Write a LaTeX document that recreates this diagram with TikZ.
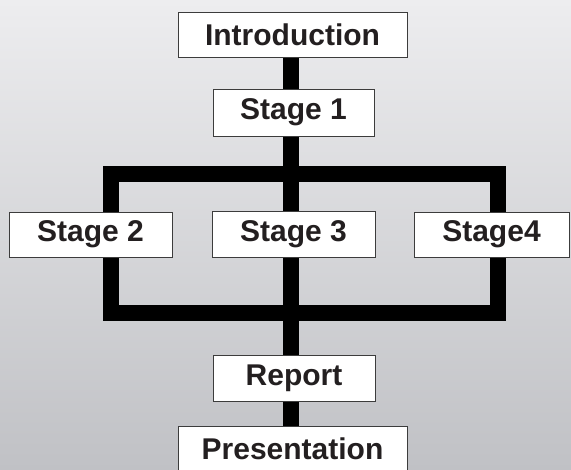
\documentclass[tikz,border=0pt]{standalone}
\usepackage{fontspec}
\setmainfont{Liberation Sans}
\usetikzlibrary{backgrounds}
\definecolor{bgtop}{RGB}{237,237,239}
\definecolor{bgbot}{RGB}{192,193,197}
\definecolor{boxline}{RGB}{60,60,60}
\definecolor{txt}{RGB}{35,31,32}
\tikzset{
  stagebox/.style={draw=boxline, line width=0.9pt, fill=white, inner sep=0pt,
    text=txt, font=\bfseries\fontsize{30}{36}\selectfont, anchor=center},
  bar/.style={line width=16pt, draw=black, line join=miter, line cap=butt}
}
\begin{document}
\begin{tikzpicture}[x=1pt, y=-1pt]
\useasboundingbox (0,0) rectangle (571,470);
\node[stagebox, minimum width=229pt, minimum height=45pt] (intro) at (292.5,34.5) {Introduction};
\node[stagebox, minimum width=161pt, minimum height=47pt] (s1) at (293.5,112.5) {Stage 1};
\node[stagebox, minimum width=163pt, minimum height=45pt] (s2) at (90.5,234.5) {Stage 2};
\node[stagebox, minimum width=163pt, minimum height=46pt] (s3) at (293.5,234) {\raisebox{2pt}{Stage 3}};
\node[stagebox, minimum width=155pt, minimum height=45pt] (s4) at (491.5,234.5) {Stage4};
\node[stagebox, minimum width=162pt, minimum height=46pt] (report) at (294,378) {Report};
\node[stagebox, minimum width=229pt, minimum height=46pt] (pres) at (292.5,449) {Presentation};
\coordinate (cx) at (291,0);
\coordinate (ftl) at (110.5,174);
\coordinate (fbr) at (498,313.5);
\begin{scope}[on background layer]
  \shade[top color=bgtop, bottom color=bgbot] (0,0) rectangle (571,470);
  \draw[bar] (ftl) rectangle (fbr);
  \draw[bar] (intro.south -| cx) -- (pres.north -| cx);
\end{scope}
\end{tikzpicture}
\end{document}
